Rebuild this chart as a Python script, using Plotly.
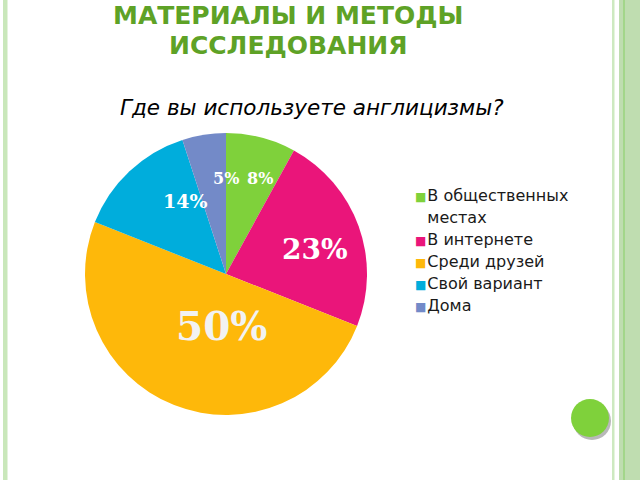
import math
import plotly.graph_objects as go

categories = ["В общественных местах", "В интернете", "Среди друзей", "Свой вариант", "Дома"]
legend_lines = [["В общественных", "местах"], ["В интернете"], ["Среди друзей"], ["Свой вариант"], ["Дома"]]
values = [8, 23, 50, 14, 5]
colors = ["#7FD13B", "#EA157A", "#FEB80A", "#00ADDC", "#738AC8"]

# label styling / placement (relative to slice middle angle and pie radius)
label_sizes = [16, 28, 39, 19, 16]
label_colors = ["white", "white", "#F2F2F2", "white", "white"]
label_radius = [0.716, 0.655, 0.37, 0.59, 0.674]
label_angle_shift = [5.3, 4.1, -17.2, 14.3, 9.0]

W, H = 640, 480
cx, cy, r = 226, 274, 141

fig = go.Figure(go.Pie(
    labels=categories,
    values=values,
    sort=False,
    direction="clockwise",
    rotation=0,
    marker=dict(colors=colors, line=dict(width=0)),
    textinfo="none",
    domain=dict(x=[(cx - r) / W, (cx + r) / W], y=[(H - cy - r) / H, (H - cy + r) / H]),
    hoverinfo="label+percent",
    showlegend=False,
))

shapes = [
    dict(type="rect", xref="paper", yref="paper", x0=3 / W, x1=7.5 / W, y0=0, y1=1,
         fillcolor="#C9E7BA", line=dict(width=0), layer="below"),
    dict(type="rect", xref="paper", yref="paper", x0=612 / W, x1=614.5 / W, y0=0, y1=1,
         fillcolor="#CDE9C0", line=dict(width=0), layer="below"),
    dict(type="rect", xref="paper", yref="paper", x0=619 / W, x1=1, y0=0, y1=1,
         fillcolor="#BFDDB0", line=dict(width=0), layer="below"),
    dict(type="rect", xref="paper", yref="paper", x0=623 / W, x1=625 / W, y0=0, y1=1,
         fillcolor="#A3D68A", line=dict(width=0), layer="below"),
    dict(type="circle", xref="paper", yref="paper",
         x0=(572 + 1) / W, x1=(610 + 1) / W, y0=(H - 438 - 2) / H, y1=(H - 400 - 2) / H,
         fillcolor="#9A9A9A", line=dict(width=0), opacity=0.7),
    dict(type="circle", xref="paper", yref="paper",
         x0=571 / W, x1=609 / W, y0=(H - 437) / H, y1=(H - 399) / H,
         fillcolor="#7FD13B", line=dict(width=0)),
]

annotations = [
    dict(text="<b>МАТЕРИАЛЫ И МЕТОДЫ</b>", xref="paper", yref="paper",
         x=288 / W, y=1 - 16 / H, xanchor="center", yanchor="middle", showarrow=False,
         font=dict(family="DejaVu Sans", size=25, color="#5EA226")),
    dict(text="<b>ИССЛЕДОВАНИЯ</b>", xref="paper", yref="paper",
         x=288 / W, y=1 - 45 / H, xanchor="center", yanchor="middle", showarrow=False,
         font=dict(family="DejaVu Sans", size=25, color="#5EA226")),
    dict(text="<i>Где вы используете англицизмы?</i>", xref="paper", yref="paper",
         x=312 / W, y=1 - 108 / H, xanchor="center", yanchor="middle", showarrow=False,
         font=dict(family="DejaVu Sans", size=21.5, color="black")),
]

# percentage labels placed from the slice angles derived from the values
total = sum(values)
cum = 0
for v, size, col, rf, shift in zip(values, label_sizes, label_colors, label_radius, label_angle_shift):
    mid = (cum + v / 2) / total * 360 + shift
    cum += v
    a = math.radians(mid)
    px = cx + rf * r * math.sin(a)
    py = cy - rf * r * math.cos(a)
    annotations.append(dict(text=f"<b>{round(v / total * 100)}%</b>", xref="paper", yref="paper",
                            x=px / W, y=1 - py / H, xanchor="center", yanchor="middle",
                            showarrow=False,
                            font=dict(family="DejaVu Serif", size=size, color=col)))

# legend: colored square next to wrapped label text
leg_x, leg_y, line_h = 413, 195, 22
row = 0
for lines, col in zip(legend_lines, colors):
    for j, line in enumerate(lines):
        y = leg_y + (row + j) * line_h
        sq = col if j == 0 else "white"
        txt = (f'<span style="color:{sq};font-size:12px">■</span>'
               f'<span style="font-size:3px"> </span>{line}')
        annotations.append(dict(text=txt, xref="paper", yref="paper",
                                x=leg_x / W, y=1 - y / H, xanchor="left", yanchor="middle",
                                showarrow=False,
                                font=dict(family="DejaVu Sans", size=16, color="#1a1a1a")))
    row += len(lines)

fig.update_layout(
    width=W, height=H,
    margin=dict(l=0, r=0, t=0, b=0),
    paper_bgcolor="white",
    plot_bgcolor="white",
    shapes=shapes,
    annotations=annotations,
)

fig.write_html("out.html", config={"displayModeBar": False},
               post_script="document.body.style.margin='0px';")
